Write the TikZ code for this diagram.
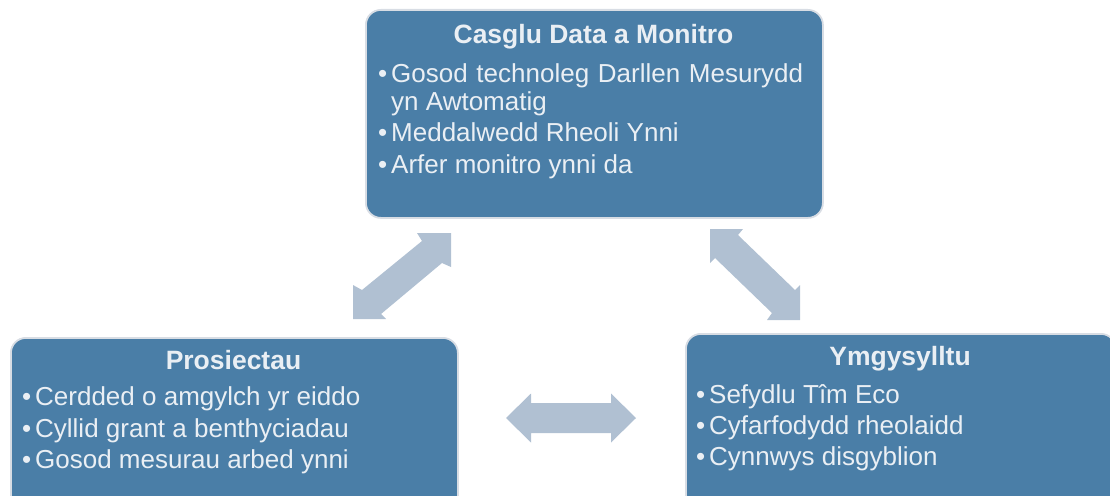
\documentclass[tikz,border=0pt]{standalone}
\usepackage{fontspec}
\setmainfont{Liberation Sans}
\usetikzlibrary{calc}
\definecolor{boxblue}{RGB}{74,126,167}
\definecolor{arrowblue}{RGB}{176,192,210}
\definecolor{boxedge}{RGB}{216,221,228}
\definecolor{txtcol}{RGB}{234,239,244}
\newcommand\itembul{\makebox[13pt][l]{•}}
\begin{document}
\begin{tikzpicture}[x=1pt,y=-1pt,
  panel/.style={draw=boxedge, line width=1.8pt, fill=boxblue, rounded corners=15pt, inner sep=0pt, anchor=north west},
  ttl/.style={anchor=base, inner sep=0pt, text=txtcol, font=\fontsize{26.5}{30}\selectfont\bfseries},
  itm/.style={anchor=base west, inner sep=0pt, text=txtcol, font=\fontsize{26}{30}\selectfont},
  blk/.style={fill=arrowblue}]
\useasboundingbox (0,0) rectangle (1110,495);

% panels
\node[panel, minimum width=457pt, minimum height=208pt] (top) at (365,9) {};
\node[panel, minimum width=447pt, minimum height=175pt] (left) at (10,337) {};
\node[panel, minimum width=430pt, minimum height=175pt] (right) at (685,333) {};

% top panel text
\node[ttl] (topT) at (593.5,44) {Casglu Data a Monitro};
\node[itm] (top1) at (378,82.7) {\itembul\makebox[412pt][s]{Gosod technoleg Darllen Mesurydd}};
\node[itm] (top1b) at (391,110.7) {yn Awtomatig};
\node[itm] (top2) at (378,141) {\itembul Meddalwedd Rheoli Ynni};
\node[itm] (top3) at (378,173.3) {\itembul Arfer monitro ynni da};

% left panel text
\node[ttl] (leftT) at (233.5,369) {Prosiectau};
\node[itm] (left1) at (22,405.7) {\itembul Cerdded o amgylch yr eiddo};
\node[itm] (left2) at (22,437) {\itembul Cyllid grant a benthyciadau};
\node[itm] (left3) at (22,468) {\itembul Gosod mesurau arbed ynni};

% right panel text
\node[ttl] (rightT) at (900,365) {Ymgysylltu};
\node[itm] (right1) at (696,403) {\itembul Sefydlu Tîm Eco};
\node[itm] (right2) at (696,434) {\itembul Cyfarfodydd rheolaidd};
\node[itm] (right3) at (696,465) {\itembul Cynnwys disgyblion};

% arrow tips
\coordinate (la) at (353,319);
\coordinate (lb) at (451,233);
\coordinate (ra) at (710,229);
\coordinate (rb) at (800,320);
\coordinate (ha) at (506,418);
\coordinate (hb) at (636,418);

% left diagonal double arrow (left <-> top)
\fill[blk] (la) -- ($(la)+(0,-34)$) -- ($(la)+(9,-29)$) -- ($(lb)+(-29,8)$)
  -- ($(lb)+(-34,0)$) -- (lb) -- ($(lb)+(0,34)$) -- ($(lb)+(-9,30)$)
  -- ($(la)+(28,-5)$) -- ($(la)+(33,0)$) -- cycle;

% right diagonal double arrow (top <-> right)
\fill[blk] (ra) -- ($(ra)+(33,0)$) -- ($(ra)+(28,6)$) -- ($(rb)+(-5,-30)$)
  -- ($(rb)+(0,-35)$) -- (rb) -- ($(rb)+(-33,0)$) -- ($(rb)+(-28,-7)$)
  -- ($(ra)+(5,29)$) -- ($(ra)+(0,34)$) -- cycle;

% horizontal double arrow (left <-> right)
\fill[blk] (ha) -- ($(ha)+(25,-24.5)$) -- ($(ha)+(25,-15)$) -- ($(hb)+(-25,-15)$)
  -- ($(hb)+(-25,-24.5)$) -- (hb) -- ($(hb)+(-25,24.5)$) -- ($(hb)+(-25,15)$)
  -- ($(ha)+(25,15)$) -- ($(ha)+(25,24.5)$) -- cycle;
\end{tikzpicture}
\end{document}
